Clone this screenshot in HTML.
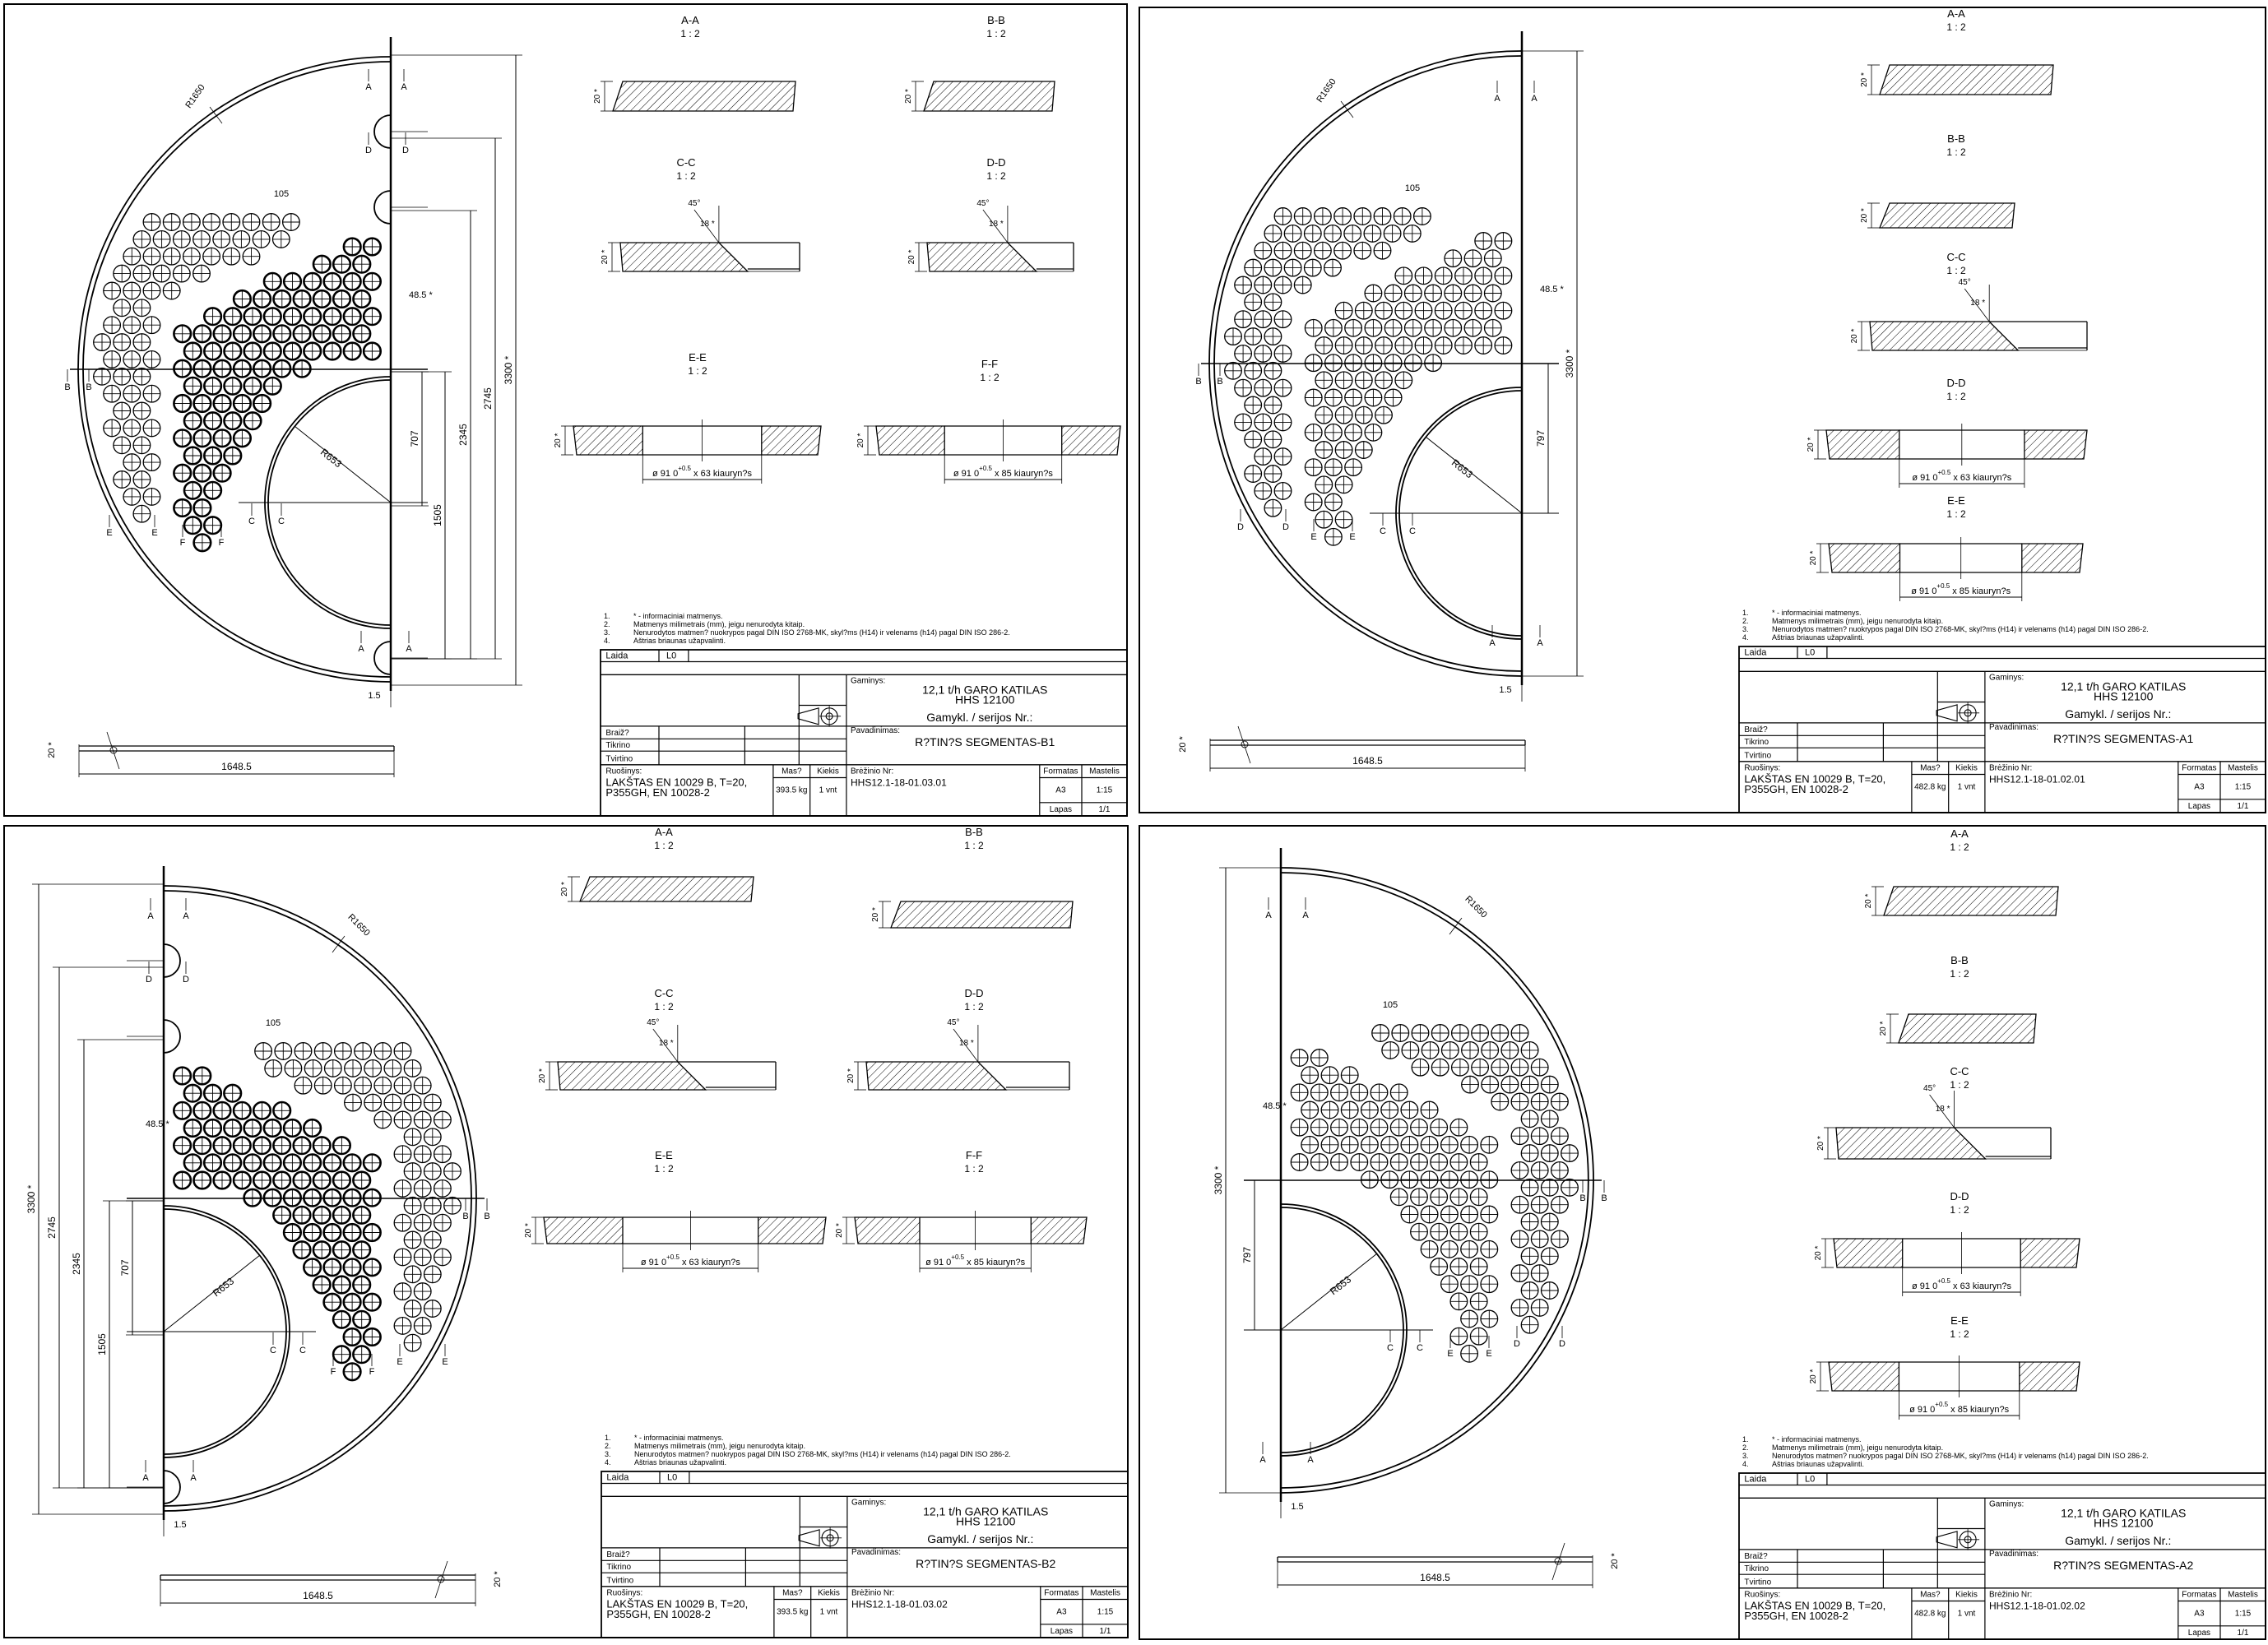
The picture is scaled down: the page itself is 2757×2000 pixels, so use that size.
<!DOCTYPE html>
<html><head><meta charset="utf-8">
<style>
html,body{margin:0;padding:0;background:#fff;}
svg{display:block;}
text{font-family:"Liberation Sans Narrow","Liberation Sans",sans-serif;fill:#000;}
</style></head>
<body>
<svg id="s" xmlns="http://www.w3.org/2000/svg" width="2757" height="2000" viewBox="0 0 2757 2000">
<defs>
<pattern id="h" patternUnits="userSpaceOnUse" width="7" height="7" patternTransform="rotate(45)">
<line x1="0" y1="0" x2="0" y2="7" stroke="#000" stroke-width="1"/></pattern>
</defs>
<rect x="0" y="0" width="2757" height="2000" fill="#fff"/>
<g id="g" stroke="#000" fill="none"></g>
</svg>
<script>
var S=[];
function f(n){return Math.round(n*10)/10;}
function L(a,b,c,d,w){S.push('<line x1="'+f(a)+'" y1="'+f(b)+'" x2="'+f(c)+'" y2="'+f(d)+'" stroke-width="'+(w||1.2)+'"/>');}
function T(x,y,s,sz,anc,rot){sz=sz||13;var tr=rot?' transform="rotate('+rot+' '+f(x)+' '+f(y)+')"':'';
S.push('<text x="'+f(x)+'" y="'+f(y)+'" font-size="'+sz+'" stroke="none" text-anchor="'+(anc||'start')+'"'+tr+'>'+s+'</text>');}
function R(x,y,w,h,sw){S.push('<rect x="'+f(x)+'" y="'+f(y)+'" width="'+f(w)+'" height="'+f(h)+'" stroke-width="'+(sw||1.3)+'"/>');}
function Pg(pts,fill,sw){S.push('<polygon points="'+pts.map(function(p){return f(p[0])+','+f(p[1]);}).join(' ')+'" fill="'+(fill||'none')+'" stroke-width="'+(sw||1.3)+'"/>');}
function C(x,y,r,w){S.push('<circle cx="'+f(x)+'" cy="'+f(y)+'" r="'+r+'" stroke-width="'+w+'"/>');}
function A(x1,y1,x2,y2,r,sw,w){S.push('<path d="M'+f(x1)+','+f(y1)+' A'+r+','+r+' 0 0 '+sw+' '+f(x2)+','+f(y2)+'" stroke-width="'+w+'"/>');}

var panels=[
 {box:[5,5,1365,987],dx:0,dy:0,mir:false,bold:true,io:162,notch:true,name:'R?TIN?S SEGMENTAS-B1',nr:'HHS12.1-18-01.03.01',mass:'393.5 kg',d707:'707'},
 {box:[1385,9,1369,979],dx:1375,dy:-7,mir:false,bold:false,io:182,notch:false,name:'R?TIN?S SEGMENTAS-A1',nr:'HHS12.1-18-01.02.01',mass:'482.8 kg',d707:'797'},
 {box:[5,1004,1366,987],M:674,dy:1008,mir:true,bold:true,io:162,notch:true,name:'R?TIN?S SEGMENTAS-B2',nr:'HHS12.1-18-01.03.02',mass:'393.5 kg',d707:'707'},
 {box:[1385,1004,1369,989],M:2032,dy:986,mir:true,bold:false,io:182,notch:false,name:'R?TIN?S SEGMENTAS-A2',nr:'HHS12.1-18-01.02.02',mass:'482.8 kg',d707:'797'}
];

var thin=[[5,7,9,11,13,15,17,19],[4,6,8,10,12,14,16,18],[3,5,7,9,11,13,15],[2,4,6,8,10],[1,3,5,7],[2,4],[1,3,5],[0,2,4],[1,3,5],[0,2,4],[1,3,5],[2,4],[1,3,5],[2,4],[3,5],[2,4],[3,5],[4]];
var bold=[[8,9],[7,8,9],[4,5,6,7,8,9],[3,4,5,6,7,8,9],[1,2,3,4,5,6,7,8,9],[0,1,2,3,4,5,6,7,8,9],[0,1,2,3,4,5,6,7,8,9],[0,1,2,3,4,5,6],[0,1,2,3,4],[0,1,2,3,4],[0,1,2,3],[0,1,2,3],[0,1,2],[0,1,2],[0,1],[0,1],[0,1],[1]];

panels.forEach(function(p){
 var b=p.box;
 R(b[0],b[1],b[2],b[3],2);
 function X(x){return p.mir?p.M-x:x+p.dx;}
 function Y(y){return y+p.dy;}
 var sw=p.mir?1:0, ic=449+p.io;
 L(X(475),Y(45),X(475),Y(840),2.5);
 A(X(475),Y(69),X(475),Y(829),380,sw,1.8);
 A(X(475),Y(75),X(475),Y(823),374,sw,1.8);
 L(X(85),Y(449),X(520),Y(449),1.5);
 A(X(475),Y(ic-149),X(475),Y(ic+149),149,sw,1.8);
 A(X(475),Y(ic-153),X(475),Y(ic+153),153,sw,1.8);
 L(X(290),Y(ic),X(520),Y(ic),1);
 L(X(475),Y(ic),X(358),Y(ic-93),1);
 T((X(400)),Y(ic-51),'R653',12,'middle',p.mir?-38:38);
 if(p.notch)[160,252,800].forEach(function(y){A(X(475),Y(y-20),X(475),Y(y+20),20,sw,1.8);L(X(475),Y(y),X(520),Y(y),0.8);});
 var r=10.3,wt=1.3,wb=p.bold?2.6:1.3;
 function hole(zx,zy,w){var x=X(100+zx/3),y=Y(200+zy/3);C(x,y,r,w);L(x-r,y,x+r,y,0.9);L(x,y-r,x,y+r,0.9);}
 thin.forEach(function(row,i){row.forEach(function(h){hole(72+36.3*h,210+62.6*i,wt);});});
 bold.forEach(function(row,i){var base=(i%2==0)?403:365;row.forEach(function(k){hole(base+72.7*k,300+63.5*i,wb);});});
 var dims=[[513,452,615,p.d707],[541,452,801,'1505'],[572,256,801,'2345'],[602,168,801,'2745'],[627,67,833,'3300 *']];
 if(!p.bold)dims=[[507,449,ic,p.d707],[542,69,829,'3300 *']];
 dims.forEach(function(d){L(X(d[0]),Y(d[1]),X(d[0]),Y(d[2]),1);L(X(475),Y(d[1]),X(d[0]+8),Y(d[1]),0.8);L(X(475),Y(d[2]),X(d[0]+8),Y(d[2]),0.8);
  T(X(d[0])-5,Y((d[1]+d[2])/2),d[3],12,'middle',-90);});
 L(X(475),Y(840),X(475),Y(860),0.8);T(X(455),Y(849),'1.5',11,'middle');
 T(X(240),Y(119),'R1650',11,'middle',p.mir?45:-55);
 L(X(255),Y(130),X(270),Y(150),0.8);
 T(X(497),Y(362),'48.5 *',11,'start');
 T(X(342),Y(239),'105',11,'middle');
 var lets=p.bold?[['A',448,109],['A',491,109],['D',448,186],['D',493,186],['B',82,474],['B',108,474],['C',306,637],['C',342,637],['E',133,651],['E',188,651],['F',222,663],['F',269,663],['A',439,792],['A',497,792]]
  :[['A',445,130],['A',490,130],['B',82,474],['B',108,474],['C',306,ic+25],['C',342,ic+25],['D',133,651],['D',188,651],['E',222,663],['E',269,663],['A',439,792],['A',497,792]];
 lets.forEach(function(l){T(X(l[1]),Y(l[2]),l[0],11,'middle');L(X(l[1]),Y(l[2]-10),X(l[1]),Y(l[2]-25),0.8);});
 L(X(96),Y(907),X(479),Y(907),1.3);L(X(96),Y(913),X(479),Y(913),1.3);L(X(479),Y(907),X(479),Y(913),1.3);
 L(X(96),Y(905),X(96),Y(945),0.8);L(X(479),Y(913),X(479),Y(945),0.8);L(X(96),Y(941),X(479),Y(941),1);
 T((X(96)+X(479))/2,Y(936),'1648.5',12,'middle');
 T(X(66),Y(912),'20 *',11,'middle',-90);
 L(X(130),Y(890),X(145),Y(935),0.8);C(X(138),Y(912),4,0.8);
 var bx=b[0]+b[2]-640,by=b[1]+b[3]-202,w=640,h=202;
 function hx(a){return bx+a*w;} function hy(a){return by+a*h;}
 R(bx,by,w,h,1.8);
 [0.072,0.15,0.692].forEach(function(a){L(bx,hy(a),bx+w,hy(a),1.3);});
 L(hx(0.111),by,hx(0.111),hy(0.072));L(hx(0.167),by,hx(0.167),hy(0.072));
 L(hx(0.377),hy(0.15),hx(0.377),hy(0.692));L(hx(0.467),hy(0.15),hx(0.467),h+by);
 L(hx(0.377),hy(0.334),hx(0.467),hy(0.334));
 L(bx,hy(0.46),bx+w,hy(0.46));L(bx,hy(0.536),hx(0.467),hy(0.536));L(bx,hy(0.61),hx(0.467),hy(0.61));
 L(hx(0.111),hy(0.46),hx(0.111),hy(0.692));L(hx(0.274),hy(0.46),hx(0.274),hy(0.692));
 L(hx(0.328),hy(0.692),hx(0.328),by+h);L(hx(0.398),hy(0.692),hx(0.398),by+h);
 L(hx(0.834),hy(0.692),hx(0.834),by+h);L(hx(0.914),hy(0.692),hx(0.914),by+h);
 L(hx(0.328),hy(0.77),hx(0.467),hy(0.77));L(hx(0.834),hy(0.77),bx+w,hy(0.77));L(hx(0.834),hy(0.92),bx+w,hy(0.92));
 var sx=hx(0.422),sy=hy(0.40);
 Pg([[sx-30,sy-3],[sx-5,sy-10],[sx-5,sy+10],[sx-30,sy+3]],'none',1.1);C(sx+8,sy,10,1.1);C(sx+8,sy,4,1.1);L(sx-4,sy,sx+22,sy,0.8);L(sx+8,sy-13,sx+8,sy+13,0.8);
 T(hx(0.01),hy(0.052),'Laida',11);T(hx(0.125),hy(0.052),'L0',11);
 T(hx(0.475),hy(0.2),'Gaminys:',10);
 T(hx(0.73),hy(0.265),'12,1 t/h GARO KATILAS',14,'middle');T(hx(0.73),hy(0.325),'HHS 12100',14,'middle');
 T(hx(0.72),hy(0.43),'Gamykl. / serijos Nr.:',14,'middle');
 T(hx(0.475),hy(0.5),'Pavadinimas:',10);T(hx(0.73),hy(0.58),p.name,14,'middle');
 T(hx(0.01),hy(0.515),'Brai\u017E?',10);T(hx(0.01),hy(0.59),'Tikrino',10);T(hx(0.01),hy(0.67),'Tvirtino',10);
 T(hx(0.01),hy(0.745),'Ruo\u0161inys:',10);T(hx(0.01),hy(0.82),'LAK\u0160TAS EN 10029 B, T=20,',13);T(hx(0.01),hy(0.88),'P355GH, EN 10028-2',13);
 T(hx(0.363),hy(0.745),'Mas?',10,'middle');T(hx(0.432),hy(0.745),'Kiekis',10,'middle');
 T(hx(0.363),hy(0.86),p.mass,10,'middle');T(hx(0.432),hy(0.86),'1 vnt',10,'middle');
 T(hx(0.475),hy(0.745),'Br\u0117\u017Einio Nr:',10);T(hx(0.475),hy(0.82),p.nr,12);
 T(hx(0.874),hy(0.745),'Formatas',10,'middle');T(hx(0.957),hy(0.745),'Mastelis',10,'middle');
 T(hx(0.874),hy(0.86),'A3',10,'middle');T(hx(0.957),hy(0.86),'1:15',10,'middle');
 T(hx(0.874),hy(0.975),'Lapas',10,'middle');T(hx(0.957),hy(0.975),'1/1',10,'middle');
 var nx=bx+4,ny=by;
 [['1.','* - informaciniai matmenys.'],['2.','Matmenys milimetrais (mm), jeigu nenurodyta kitaip.'],['3.','Nenurodytos matmen? nuokrypos pagal DIN ISO 2768-MK, skyl?ms (H14) ir velenams (h14) pagal DIN ISO 286-2.'],['4.','A\u0161trias briaunas u\u017Eapvalinti.']].forEach(function(n,i){
  T(nx,ny-38+i*10,n[0],9);T(nx+36,ny-38+i*10,n[1],9);});
});

function sect(x1,y1,x2,y2,type,title,tx,ty,holes){
 var w=x2-x1,h=y2-y1;
 T(tx,ty,title,13,'middle');T(tx,ty+16,'1 : 2',12,'middle');
 L(x1-15,y1,x1,y1,0.8);L(x1-15,y2,x1,y2,0.8);L(x1-10,y1,x1-10,y2,0.8);T(x1-16,(y1+y2)/2,'20 *',10,'middle',-90);
 if(type=='full'){Pg([[x1+12,y1],[x2,y1],[x2-3,y2],[x1,y2]],'url(#h)',1.3);}
 else if(type=='bevel'){var xm=x1+0.55*w;Pg([[x1,y1],[xm,y1],[xm+h,y2],[x1+3,y2]],'url(#h)',1.3);
  L(xm,y1,x2,y1,1.3);L(xm+h,y2-3,x2,y2-3,1.3);L(x2,y1,x2,y2,1.3);L(xm+h,y2,x2,y2,0.8);
  L(xm,y1,xm-30,y1-40,0.8);L(xm,y1,xm,y1-45,0.8);T(xm-30,y1-45,'45\u00B0',10,'middle');T(xm-14,y1-20,'18 *',10,'middle');}
 else{var a=x1+0.28*w,c=x2-0.24*w;Pg([[x1,y1],[a,y1],[a,y2],[x1+4,y2]],'url(#h)',1.3);Pg([[c,y1],[x2,y1],[x2-4,y2],[c,y2]],'url(#h)',1.3);
  L(a,y1,c,y1,1.3);L(a,y2,c,y2,1.3);var m=(a+c)/2;L(m,y1-8,m,y2+8,0.8);
  L(a,y2,a,y2+35,0.8);L(c,y2,c,y2+35,0.8);L(a,y2+30,c,y2+30,1);
  T(m,y2+26,'\u00F8 91 0<tspan font-size="8" dy="-7">+0.5</tspan><tspan dy="7"> x '+holes+' kiauryn?s</tspan>',11,'middle');}
}
var secs=[
 [745,99,967,135,'full','A-A',839,29],[1123,99,1282,135,'full','B-B',1211,29],
 [754,295,972,330,'bevel','C-C',834,202],[1127,295,1305,330,'bevel','D-D',1211,202],
 [697,518,998,553,'split','E-E',848,439,63],[1065,518,1362,553,'split','F-F',1203,447,85],
 [2285,79,2496,115,'full','A-A',2378,21],[2285,247,2449,277,'full','B-B',2378,173],
 [2273,391,2537,426,'bevel','C-C',2378,317],[2220,523,2537,558,'split','D-D',2378,470,63],
 [2223,661,2532,696,'split','E-E',2378,613,85],
 [705,1066,916,1096,'full','A-A',807,1016],[1083,1096,1304,1128,'full','B-B',1184,1016],
 [678,1291,943,1325,'bevel','C-C',807,1212],[1053,1291,1300,1325,'bevel','D-D',1184,1212],
 [661,1480,1004,1512,'split','E-E',807,1409,63],[1039,1480,1321,1512,'split','F-F',1184,1409,85],
 [2290,1078,2502,1113,'full','A-A',2382,1018],[2308,1233,2475,1268,'full','B-B',2382,1172],
 [2232,1371,2493,1409,'bevel','C-C',2382,1307],[2229,1506,2528,1541,'split','D-D',2382,1459,63],
 [2223,1656,2528,1691,'split','E-E',2382,1610,85]
];
secs.forEach(function(s){sect(s[0],s[1],s[2],s[3],s[4],s[5],s[6],s[7],s[8]);});
document.getElementById('g').innerHTML=S.join('');
</script>
</body></html>
